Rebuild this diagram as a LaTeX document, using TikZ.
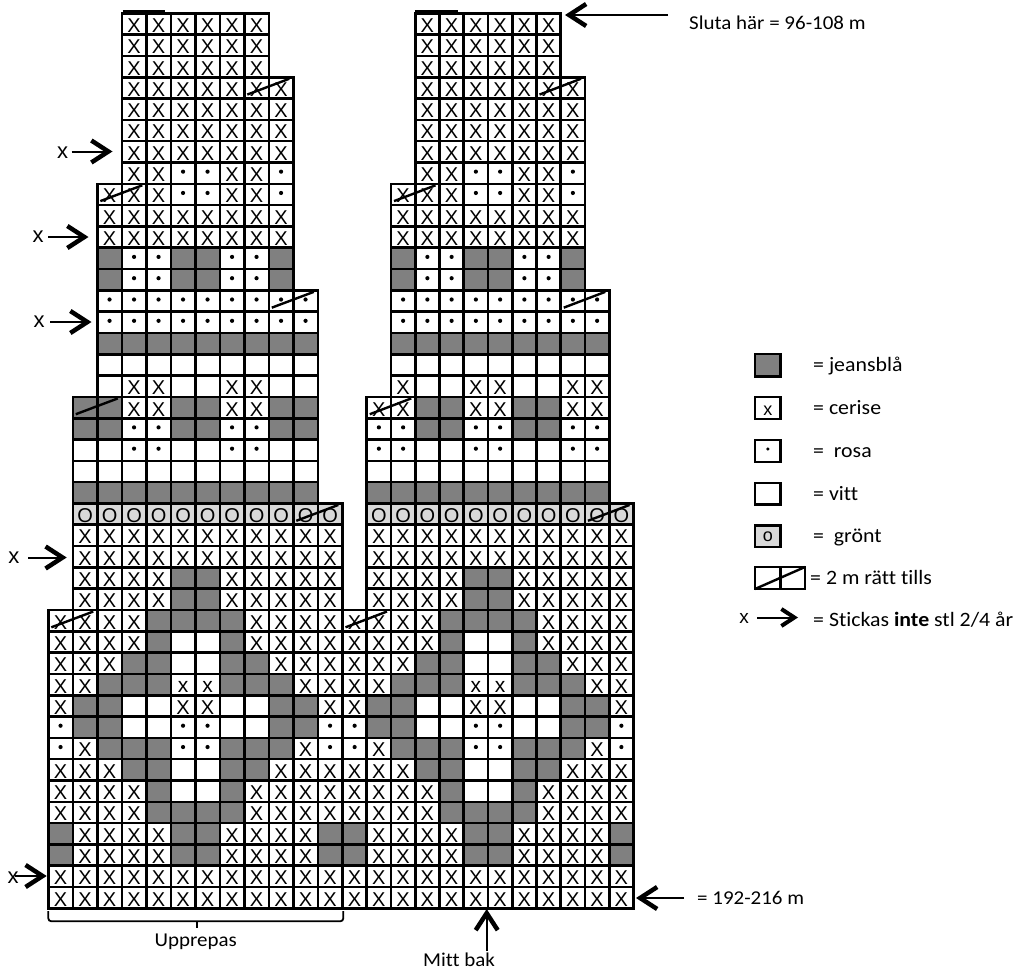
\documentclass[tikz,border=0pt]{standalone}
\usepackage{fontspec}
\setmainfont{Carlito}[FakeStretch=1.07,Ligatures=NoCommon]
\newfontfamily\cellfont{Liberation Sans}
\usetikzlibrary{arrows.meta}
\definecolor{jeans}{RGB}{128,128,128}
\definecolor{gron}{RGB}{217,217,217}
\newcommand\RH{21.31}
\newcommand\TOP{13.33}
\tikzset{
  cellbox/.style={draw=black,line width=2.6pt},
  xlab/.style={font=\cellfont\fontsize{20}{22}\selectfont,anchor=base,inner sep=0pt},
  smallx/.style={font=\cellfont\fontsize{21}{23}\selectfont,anchor=base,inner sep=0pt},
  slashline/.style={line width=2.4pt},
  lab/.style={font=\fontsize{19.6}{23}\selectfont,inner sep=0pt},
  leglab/.style={font=\fontsize{20.4}{24}\selectfont,inner sep=0pt,anchor=base west},
  xmark/.style={font=\cellfont\fontsize{22}{24}\selectfont,inner sep=0pt,anchor=base},
  bigarrow/.style={line width=2pt,-{Straight Barb[length=17pt,width=22pt,line width=4.5pt]}},
  legarrow/.style={line width=2pt,-{Straight Barb[length=13pt,width=17pt,line width=4pt]}},
  legbox/.style={draw=black,line width=2.6pt},
}
\newcommand\knitcell{\draw[cellbox] (\xl,\yt) rectangle (\xr,\yb);}
\newcommand\knitX{\knitcell\node[xlab] at ({(\xl+\xr)/2},\yb-2.2) {X};}
\newcommand\knitx{\knitcell\node[smallx] at ({(\xl+\xr)/2},\yb-2.5) {x};}
\newcommand\knitW{\knitcell}
\newcommand\knitG{\draw[cellbox,fill=jeans] (\xl,\yt) rectangle (\xr,\yb);}
\newcommand\knitO{\draw[cellbox,fill=gron] (\xl,\yt) rectangle (\xr,\yb);\node[xlab] at ({(\xl+\xr)/2},\yb-2.2) {O};}
\newcommand\knitD{\knitcell\fill ({(\xl+\xr)/2},{(\yt+\yb)/2-1.5}) circle (2.1);}
% \chartrow{x0}{pitch}{row}{startcol}{list}
\newcommand\chartrow[5]{%
  \foreach \cc [count=\i from 0] in {#5} {%
    \pgfmathsetmacro\xl{#1+(#4+\i)*#2}%
    \pgfmathsetmacro\xr{\xl+#2}%
    \pgfmathsetmacro\yt{\TOP+(#3-1)*\RH}%
    \pgfmathsetmacro\yb{\yt+\RH}%
    \csname knit\cc\endcsname
  }%
}
\newcommand\knitslash[4]{%
  \pgfmathsetmacro\sxl{#1+#4*#2+3}%
  \pgfmathsetmacro\sxr{#1+(#4+2)*#2-4}%
  \pgfmathsetmacro\syt{\TOP+(#3-1)*\RH+1.5}%
  \pgfmathsetmacro\syb{\TOP+#3*\RH-4}%
  \draw[slashline] (\sxl,\syb) -- (\sxr,\syt);}
\newcommand\chartbody[2]{%
  \chartrow{#1}{#2}{1}{3}{X,X,X,X,X,X}
  \chartrow{#1}{#2}{2}{3}{X,X,X,X,X,X}
  \chartrow{#1}{#2}{3}{3}{X,X,X,X,X,X}
  \chartrow{#1}{#2}{4}{3}{X,X,X,X,X,X,X}
  \chartrow{#1}{#2}{5}{3}{X,X,X,X,X,X,X}
  \chartrow{#1}{#2}{6}{3}{X,X,X,X,X,X,X}
  \chartrow{#1}{#2}{7}{3}{X,X,X,X,X,X,X}
  \chartrow{#1}{#2}{8}{3}{X,X,D,D,X,X,D}
  \chartrow{#1}{#2}{9}{2}{X,X,X,D,D,X,X,D}
  \chartrow{#1}{#2}{10}{2}{X,X,X,X,X,X,X,X}
  \chartrow{#1}{#2}{11}{2}{X,X,X,X,X,X,X,X}
  \chartrow{#1}{#2}{12}{2}{G,D,D,G,G,D,D,G}
  \chartrow{#1}{#2}{13}{2}{G,D,D,G,G,D,D,G}
  \chartrow{#1}{#2}{14}{2}{D,D,D,D,D,D,D,D,D}
  \chartrow{#1}{#2}{15}{2}{D,D,D,D,D,D,D,D,D}
  \chartrow{#1}{#2}{16}{2}{G,G,G,G,G,G,G,G,G}
  \chartrow{#1}{#2}{17}{2}{W,W,W,W,W,W,W,W,W}
  \chartrow{#1}{#2}{22}{1}{W,W,W,W,W,W,W,W,W,W}
  \chartrow{#1}{#2}{23}{1}{G,G,G,G,G,G,G,G,G,G}
  \chartrow{#1}{#2}{24}{1}{O,O,O,O,O,O,O,O,O,O,O}
  \chartrow{#1}{#2}{25}{1}{X,X,X,X,X,X,X,X,X,X,X}
  \chartrow{#1}{#2}{26}{1}{X,X,X,X,X,X,X,X,X,X,X}
  \chartrow{#1}{#2}{27}{1}{X,X,X,X,G,G,X,X,X,X,X}
  \chartrow{#1}{#2}{28}{1}{X,X,X,X,G,G,X,X,X,X,X}
  \chartrow{#1}{#2}{29}{0}{X,X,X,X,G,G,G,G,X,X,X,X}
  \chartrow{#1}{#2}{30}{0}{X,X,X,X,G,W,W,G,X,X,X,X}
  \chartrow{#1}{#2}{31}{0}{X,X,X,G,G,W,W,G,G,X,X,X}
  \chartrow{#1}{#2}{32}{0}{X,X,G,G,G,x,x,G,G,G,X,X}
  \chartrow{#1}{#2}{33}{0}{X,G,G,W,W,X,X,W,W,G,G,X}
  \chartrow{#1}{#2}{34}{0}{D,G,G,W,W,D,D,W,W,G,G,D}
  \chartrow{#1}{#2}{35}{0}{D,X,G,G,G,D,D,G,G,G,X,D}
  \chartrow{#1}{#2}{36}{0}{X,X,X,G,G,W,W,G,G,X,X,X}
  \chartrow{#1}{#2}{37}{0}{X,X,X,X,G,W,W,G,X,X,X,X}
  \chartrow{#1}{#2}{38}{0}{X,X,X,X,G,G,G,G,X,X,X,X}
  \chartrow{#1}{#2}{39}{0}{G,X,X,X,X,G,G,X,X,X,X,G}
  \chartrow{#1}{#2}{40}{0}{G,X,X,X,X,G,G,X,X,X,X,G}
  \chartrow{#1}{#2}{41}{0}{X,X,X,X,X,X,X,X,X,X,X,X}
  \chartrow{#1}{#2}{42}{0}{X,X,X,X,X,X,X,X,X,X,X,X}
  \knitslash{#1}{#2}{4}{8}
  \knitslash{#1}{#2}{9}{2}
  \knitslash{#1}{#2}{14}{9}
  \knitslash{#1}{#2}{19}{1}
  \knitslash{#1}{#2}{24}{10}
  \knitslash{#1}{#2}{29}{0}
}
\begin{document}
\begin{tikzpicture}[x=1pt,y=-1pt]
\useasboundingbox (0,0) rectangle (1017,971);
% left chart
\chartrow{48.3}{24.5}{18}{2}{W,X,X,W,W,X,X,W,W}
\chartrow{48.3}{24.5}{19}{1}{G,G,X,X,G,G,X,X,G,G}
\chartrow{48.3}{24.5}{20}{1}{G,G,D,D,G,G,D,D,G,G}
\chartrow{48.3}{24.5}{21}{1}{W,W,D,D,W,W,D,D,W,W}
\chartbody{48.3}{24.5}
% right chart
\chartrow{342.5}{24.25}{18}{2}{X,W,W,X,X,W,W,X,X}
\chartrow{342.5}{24.25}{19}{1}{X,X,G,G,X,X,G,G,X,X}
\chartrow{342.5}{24.25}{20}{1}{D,D,G,G,D,D,G,G,D,D}
\chartrow{342.5}{24.25}{21}{1}{D,D,W,W,D,D,W,W,D,D}
\chartbody{342.5}{24.25}
% thick top edges
\draw[line width=3.8pt] (122.5,12.3) -- (165,12.3);
\draw[line width=3.8pt] (415,12.3) -- (458.3,12.3);
% left arrows
\node[xmark] (x7) at (62.5,158) {x};
\coordinate (a7s) at (71.7,151.5); \coordinate (a7e) at (112.5,151.5);
\draw[bigarrow] (a7s) -- (a7e);
\node[xmark] (x11) at (38,242) {x};
\coordinate (a11s) at (48,237); \coordinate (a11e) at (88.5,237);
\draw[bigarrow] (a11s) -- (a11e);
\node[xmark] (x15) at (39,327) {x};
\coordinate (a15s) at (50,322); \coordinate (a15e) at (91.5,322);
\draw[bigarrow] (a15s) -- (a15e);
\node[xmark] (x26) at (14,563) {x};
\coordinate (a26s) at (28.3,557.5); \coordinate (a26e) at (66.7,557.5);
\draw[bigarrow] (a26s) -- (a26e);
\node[xmark] (x41) at (13,883) {x};
\coordinate (a41s) at (15,876); \coordinate (a41e) at (46.7,876);
\draw[bigarrow] (a41s) -- (a41e);
% right arrows and labels
\coordinate (stop1) at (668,15); \coordinate (stop2) at (565,15);
\draw[bigarrow] (stop1) -- (stop2);
\node[lab,anchor=base west] (sluta) at (689,30) {Sluta här = 96-108 m};
\coordinate (cast1) at (684,898); \coordinate (cast2) at (636,898);
\draw[bigarrow] (cast1) -- (cast2);
\node[lab,anchor=base west] (m192) at (697,904) {= 192-216 m};
\coordinate (mb1) at (486.7,951); \coordinate (mb2) at (486.7,909);
\draw[bigarrow] (mb1) -- (mb2);
\node[lab,anchor=base] (mitt) at (459,966.7) {Mitt bak};
% brace
\draw[line width=1.8pt,rounded corners=3pt] (48.3,911) -- (48.3,921.3) -- (343.3,921.3) -- (343.3,911);
\draw[line width=1.8pt] (196.7,921.3) -- (196.7,928.3);
\node[lab,anchor=base] (upp) at (195.7,946) {Upprepas};
% legend
\draw[legbox,fill=jeans] (755,354) rectangle (780.7,376.7);
\node[leglab] (l1) at (813,371.6) {= jeansblå};
\draw[legbox] (755,397) rectangle (780.7,419);
\node[font=\cellfont\fontsize{18}{20}\selectfont,inner sep=0pt,anchor=base] (l2x) at (767.8,415) {x};
\node[leglab] (l2) at (813,414.3) {= cerise};
\draw[legbox] (755,440) rectangle (780.7,462);
\fill (767.8,449) circle (1.7);
\node[leglab] (l3) at (813,457.3) {=\ \ rosa};
\draw[legbox] (755,483) rectangle (780.7,504.5);
\node[leglab] (l4) at (813,500) {= vitt};
\draw[legbox,fill=gron] (755,525.5) rectangle (780.7,547);
\node[font=\cellfont\fontsize{18}{20}\selectfont,inner sep=0pt,anchor=base] (l5o) at (767.8,541) {o};
\node[leglab] (l5) at (813,542.5) {=\ \ grönt};
\draw[legbox] (755,567) rectangle (805,589);
\draw[legbox] (780.7,567) -- (780.7,589);
\draw[line width=2.4pt] (755,589) -- (805,567);
\node[leglab] (l6) at (810,584.3) {= 2 m rätt tills};
\node[font=\cellfont\fontsize{19}{21}\selectfont,inner sep=0pt,anchor=base] (l7x) at (744,623) {x};
\coordinate (la1) at (757,617.5); \coordinate (la2) at (798,617.5);
\draw[legarrow] (la1) -- (la2);
\node[leglab] (l7) at (813,626) {= Stickas \textbf{inte} stl 2/4 år};
\end{tikzpicture}
\end{document}
